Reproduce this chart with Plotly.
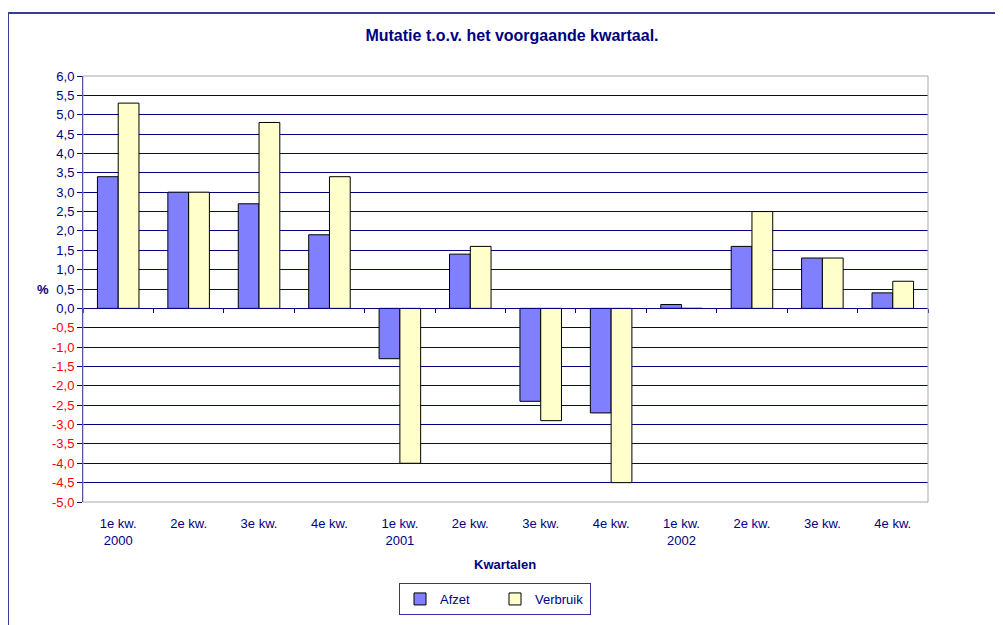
import plotly.graph_objects as go

categories = ["1e kw.<br>2000", "2e kw.", "3e kw.", "4e kw.",
              "1e kw.<br>2001", "2e kw.", "3e kw.", "4e kw.",
              "1e kw.<br>2002", "2e kw.", "3e kw.", "4e kw."]
afzet = [3.4, 3.0, 2.7, 1.9, -1.3, 1.4, -2.4, -2.7, 0.1, 1.6, 1.3, 0.4]
verbruik = [5.3, 3.0, 4.8, 3.4, -4.0, 1.6, -2.9, -4.5, 0.0, 2.5, 1.3, 0.7]
y_ticks = [x / 2 for x in range(-10, 13)]

x_idx = list(range(len(categories)))
boundaries = [i - 0.5 for i in range(len(categories) + 1)]
NAVY = "#000080"
FONT = "Liberation Sans, Arial, sans-serif"

# plot area in figure pixels
L, R, T, B = 75, 920, 68, 494
W, H = 1003, 625
PW, PH = R - L, B - T

def px(x):
    return (x - L) / PW

def py(y):
    return (B - y) / PH

def fmt(v):
    s = f"{v:.1f}".replace(".", ",")
    if v < 0:
        return f"<span style='color:#FF0000'>{s}</span>"
    return s

fig = go.Figure()
fig.add_trace(go.Bar(x=x_idx, y=afzet, name="Afzet",
                     marker=dict(color="#8080FF", line=dict(color="#000000", width=1))))
fig.add_trace(go.Bar(x=x_idx, y=verbruik, name="Verbruik",
                     marker=dict(color="#FFFFCC", line=dict(color="#000000", width=1))))
# invisible trace on overlaying axis to draw category ticks on the zero line
fig.add_trace(go.Scatter(x=x_idx, y=[0] * len(x_idx), xaxis="x2", mode="markers",
                         marker=dict(opacity=0), showlegend=False, hoverinfo="skip"))

fig.update_layout(
    width=W, height=H,
    paper_bgcolor="white", plot_bgcolor="white",
    margin=dict(l=L, r=W - R, t=T, b=H - B, autoexpand=False),
    barmode="group", bargap=0.41, bargroupgap=0,
    font=dict(family=FONT, size=13, color=NAVY),
    title=dict(text="<b>Mutatie t.o.v. het voorgaande kwartaal.</b>",
               x=504 / W, xanchor="center", y=1 - 27 / H, yanchor="middle",
               font=dict(size=16, color=NAVY, family=FONT)),
    xaxis=dict(range=[-0.5, 11.5], tickvals=x_idx, ticktext=categories,
               showgrid=False, zeroline=False, showline=False, ticks="",
               ticklabelstandoff=12,
               tickfont=dict(size=13, color=NAVY)),
    xaxis2=dict(overlaying="x", anchor="free", position=5 / 11, range=[-0.5, 11.5],
                tickvals=boundaries, ticks="outside", ticklen=4,
                tickcolor=NAVY, showticklabels=False, showgrid=False,
                showline=True, linecolor=NAVY, linewidth=1, zeroline=False),
    yaxis=dict(range=[-5, 6], tickvals=y_ticks, ticktext=[fmt(v) for v in y_ticks],
               showgrid=True, gridcolor=NAVY, gridwidth=1, zeroline=False,
               showline=True, linecolor=NAVY, linewidth=1,
               ticks="outside", ticklen=5, tickcolor=NAVY,
               tickfont=dict(size=13, color=NAVY)),
    legend=dict(orientation="h", x=px(487), xanchor="center",
                y=py(575), yanchor="top",
                bordercolor="#333399", borderwidth=1,
                font=dict(size=13, color=NAVY), itemwidth=30,
                entrywidth=50, entrywidthmode="pixels",
                traceorder="normal"),
    showlegend=True,
)

fig.add_annotation(text="<b>%</b>", xref="paper", yref="paper",
                   x=px(27), y=py(281), showarrow=False,
                   font=dict(size=13, color=NAVY))
fig.add_annotation(text="<b>Kwartalen</b>", xref="paper", yref="paper",
                   x=px(497), y=py(566), showarrow=False,
                   font=dict(size=13, color=NAVY))

# plot area border (gray)
fig.add_shape(type="rect", xref="paper", yref="paper", x0=0, y0=0, x1=1, y1=1,
              line=dict(color="#A8A8B0", width=1), layer="above")
# outer chart border
fig.add_shape(type="rect", xref="paper", yref="paper",
              x0=px(0), y0=py(640), x1=px(1010), y1=py(5),
              line=dict(color="#3A3A9A", width=2))

fig.write_html("out.html")
